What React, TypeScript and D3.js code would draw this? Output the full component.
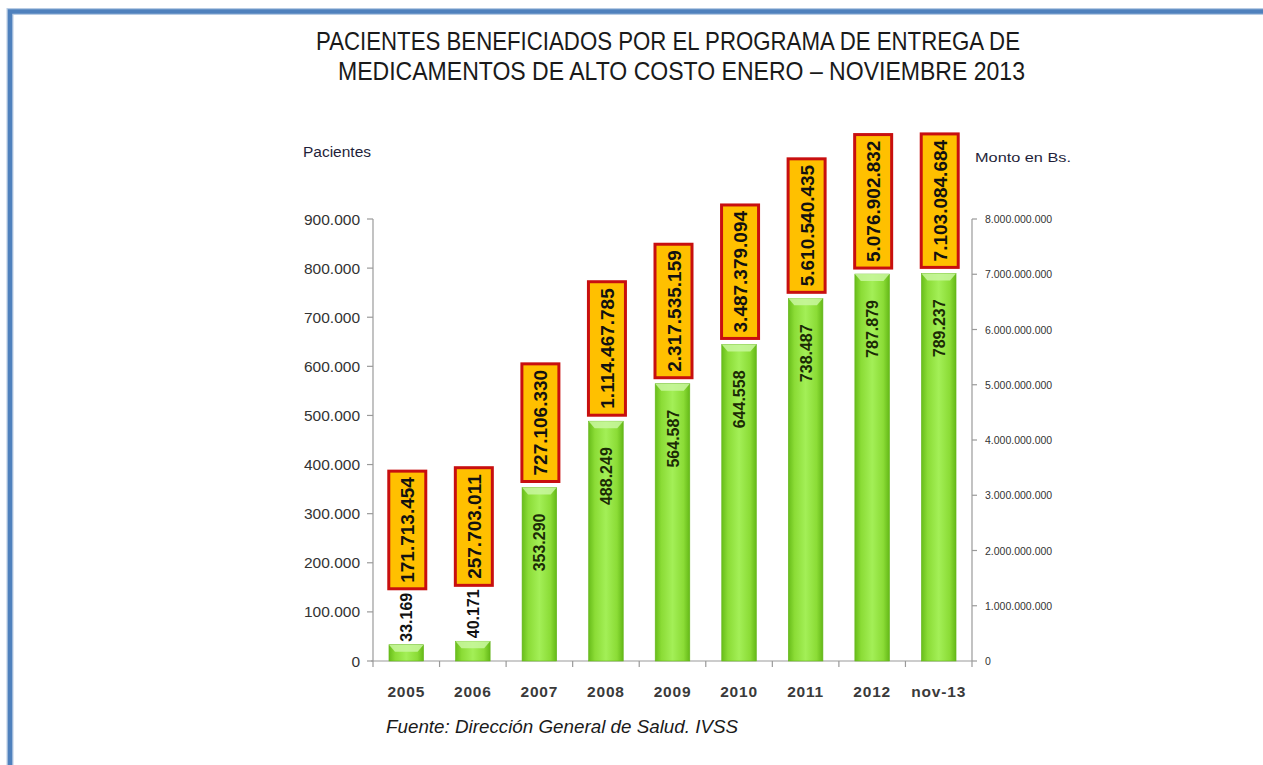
import React from "react";
import * as d3 from "d3";

const categories = ["2005", "2006", "2007", "2008", "2009", "2010", "2011", "2012", "nov-13"];
const pacientes = [33169, 40171, 353290, 488249, 564587, 644558, 738487, 787879, 789237];
const monto = [171713454, 257703011, 727106330, 1114467785, 2317535159, 3487379094, 5610540435, 5076902832, 7103084684];
const leftTicks = [0, 100000, 200000, 300000, 400000, 500000, 600000, 700000, 800000, 900000];
const rightTicks = [0, 1e9, 2e9, 3e9, 4e9, 5e9, 6e9, 7e9, 8e9];
const titleLines = [
  "PACIENTES BENEFICIADOS POR EL PROGRAMA DE ENTREGA DE",
  "MEDICAMENTOS DE ALTO COSTO ENERO – NOVIEMBRE 2013",
];

const W = 1263;
const H = 765;
const PL = 373;
const PR = 972;
const PB = 661;
const PT = 219;

const fmt = (v: number) => d3.format(",")(v).replace(/,/g, ".");

export default function App() {
  const x = d3.scaleBand<string>().domain(categories).range([PL, PR]).paddingInner(0.48).paddingOuter(0.24);
  const yL = d3.scaleLinear().domain([0, 900000]).range([PB, PT]);
  const yR = d3.scaleLinear().domain([0, 8e9]).range([PB, PT]);
  const bw = x.bandwidth();
  const font = "'Liberation Sans', Arial, sans-serif";
  const pFont = 16;
  const mFont = 19;
  const charW = (s: string, f: number) =>
    s.split("").reduce((a, c) => a + (c === "." ? 0.278 : 0.556), 0) * f;

  return (
    <svg width={W} height={H} style={{ position: "absolute", left: 0, top: 0, background: "#fff" }} fontFamily={font}>
      <defs>
        <linearGradient id="barg" x1="0" x2="1" y1="0" y2="0">
          <stop offset="0" stopColor="#68bd1a" />
          <stop offset="0.18" stopColor="#8bdc36" />
          <stop offset="0.5" stopColor="#a3ef57" />
          <stop offset="0.82" stopColor="#8bdc36" />
          <stop offset="1" stopColor="#64b817" />
        </linearGradient>
      </defs>
      <rect x={0} y={0} width={W} height={H} fill="#fff" />
      {/* border */}
      <path d={`M10,${H} V11.5 H${W}`} fill="none" stroke="#b8cce4" strokeWidth={7} />
      <path d={`M10,${H} V11.5 H${W}`} fill="none" stroke="#4f81bd" strokeWidth={4.5} />

      {/* title */}
      {titleLines.map((t, i) => (
        <text
          key={i}
          x={i === 0 ? 316 : 338}
          y={50 + i * 30}
          fontSize={25}
          fill="#1a1a1a"
          textLength={i === 0 ? 704 : 687}
          lengthAdjust="spacingAndGlyphs"
        >
          {t}
        </text>
      ))}

      {/* axis titles */}
      <text x={303} y={157} fontSize={14} fill="#1f1f3a" textLength={68} lengthAdjust="spacingAndGlyphs">Pacientes</text>
      <text x={975} y={162} fontSize={13} fill="#1f1f3a" textLength={96} lengthAdjust="spacingAndGlyphs">Monto en Bs.</text>

      {/* left axis */}
      <line x1={PL} x2={PL} y1={PT} y2={PB} stroke="#9a9a9a" strokeWidth={1.2} />
      {leftTicks.map((t) => (
        <g key={t}>
          <line x1={PL - 6} x2={PL} y1={yL(t)} y2={yL(t)} stroke="#9a9a9a" strokeWidth={1.2} />
          <text x={360} y={yL(t) + 5.5} textAnchor="end" fontSize={15.5} fill="#333">
            {fmt(t)}
          </text>
        </g>
      ))}

      {/* right axis */}
      <line x1={PR} x2={PR} y1={PT} y2={PB} stroke="#9a9a9a" strokeWidth={1.2} />
      {rightTicks.map((t) => (
        <g key={t}>
          <line x1={PR} x2={PR + 5} y1={yR(t)} y2={yR(t)} stroke="#9a9a9a" strokeWidth={1.2} />
          <text x={985} y={yR(t) + 4} fontSize={10.5} fill="#333">
            {fmt(t)}
          </text>
        </g>
      ))}

      {/* x axis */}
      <line x1={PL - 2} x2={PR} y1={PB} y2={PB} stroke="#9a9a9a" strokeWidth={1.2} />
      {categories.map((c) => {
        const bx = (x(c) as number) - (x.step() * x.paddingInner()) / 2;
        return <line key={"t" + c} x1={bx} x2={bx} y1={PB} y2={PB + 6} stroke="#9a9a9a" strokeWidth={1.2} />;
      })}
      <line x1={PR} x2={PR} y1={PB} y2={PB + 6} stroke="#9a9a9a" strokeWidth={1.2} />
      {categories.map((c) => (
        <text
          key={"l" + c}
          x={(x(c) as number) + bw / 2}
          y={697}
          textAnchor="middle"
          fontSize={15.5}
          fontWeight="bold"
          fill="#3a3a3a"
          letterSpacing={0.8}
        >
          {c}
        </text>
      ))}

      {/* bars */}
      {categories.map((c, i) => {
        const bx = x(c) as number;
        const top = yL(pacientes[i]);
        const h = PB - top;
        const cx = bx + bw / 2;
        const pl = fmt(pacientes[i]);
        const ml = fmt(monto[i]);
        const inside = h > 60;
        const pLen = charW(pl, pFont);
        const mLen = charW(ml, mFont);
        const boxH = mLen + 12;
        const boxW = 37;
        const boxBottom = inside ? top - 6 : top - 3 - pLen - 4;
        const boxTop = boxBottom - boxH;
        const pY = inside ? top + 26 : top - 3;
        return (
          <g key={"b" + c}>
            <rect x={bx} y={top} width={bw} height={h} fill="url(#barg)" stroke="#63b51a" strokeWidth={0.6} />
            <path
              d={`M${bx},${top} H${bx + bw} L${bx + bw - 6},${top + Math.min(7, h)} H${bx + 6} Z`}
              fill="#c9f7a0"
              opacity={0.85}
            />
            <text
              transform={`translate(${cx + 6},${pY}) rotate(-90)`}
              textAnchor={inside ? "end" : "start"}
              fontSize={pFont}
              fontWeight="bold"
              fill={inside ? "#1b2a05" : "#111"}
            >
              {pl}
            </text>
            <rect
              x={cx - boxW / 2 + 1}
              y={boxTop}
              width={boxW}
              height={boxH}
              fill="#ffc000"
              stroke="#c80f0f"
              strokeWidth={3}
            />
            <text
              transform={`translate(${cx + 8},${boxTop + boxH / 2}) rotate(-90)`}
              textAnchor="middle"
              fontSize={mFont}
              fontWeight="bold"
              fill="#111"
            >
              {ml}
            </text>
          </g>
        );
      })}

      {/* source */}
      <text x={386} y={733} fontSize={18} fontStyle="italic" fill="#1a1a1a" textLength={352} lengthAdjust="spacingAndGlyphs">
        Fuente: Dirección General de Salud. IVSS
      </text>
    </svg>
  );
}
